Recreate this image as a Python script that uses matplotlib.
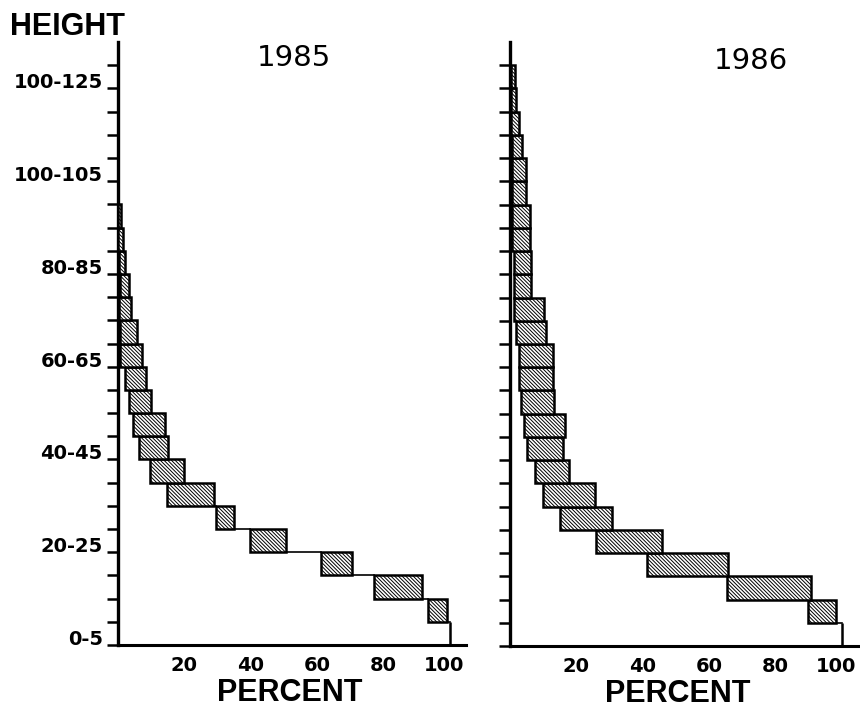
import matplotlib
matplotlib.use("Agg")
import matplotlib.pyplot as plt
from matplotlib.transforms import ScaledTranslation

plt.rcParams['font.family'] = ['DejaVu Sans']
plt.rcParams['hatch.linewidth'] = 0.7

# height classes (lower bound, 5 m steps)
class_step = 5
years = ['1985', '1986']

# left / right edge of each box in percent, class 0-5 upwards
lo_1985 = [100, 93.3, 77.2, 61.1, 39.8, 29.4, 14.8, 9.6, 6.4, 4.5, 3.4, 2.1, 0.7, 0.5, 0.3, 0.6, 0.2, 0.1, 0.0]
hi_1985 = [100, 99.0, 91.4, 70.4, 50.5, 35.0, 28.9, 19.9, 15.0, 14.1, 9.9, 8.5, 7.1, 5.7, 3.9, 3.2, 2.0, 1.5, 1.0]

lo_1986 = [100, 89.9, 65.5, 41.4, 25.8, 15.0, 10.0, 7.6, 5.0, 4.2, 3.2, 2.8, 2.8, 1.8, 1.3,
           1.2, 1.2, 0.6, 0.6, 0.5, 0.5, 0.5, 0.4, 0.3, 0.3]
hi_1986 = [100, 98.2, 90.7, 65.8, 45.9, 30.6, 25.5, 17.9, 15.9, 16.6, 13.3, 13.0, 13.1, 10.9, 10.2,
           6.3, 6.3, 6.0, 6.0, 4.9, 4.8, 3.6, 2.7, 1.8, 1.6]

ytick_pos = [0, 20, 40, 60, 80, 100, 120]
ytick_labels = ['0-5', '20-25', '40-45', '60-65', '80-85', '100-105', '100-125']
xtick_pos = [20, 40, 60, 80, 100]
xtick_labels = ['20', '40', '60', '80', '100']

W, H = 860, 709
fig = plt.figure(figsize=(W / 100, H / 100), dpi=100)
ax1 = fig.add_axes([118 / W, 1 - 645 / H, 348 / W, 603 / H])
ax2 = fig.add_axes([510 / W, 1 - 646 / H, 350 / W, 604 / H])


def draw_panel(ax, lo, hi, xmax, show_labels):
    bottoms = [i * class_step for i in range(len(lo))]
    widths = [h - l for l, h in zip(lo, hi)]
    ax.barh(bottoms, widths, height=class_step, left=lo, align='edge',
            facecolor='white', edgecolor='black', linewidth=1.8,
            hatch='\\' * 9, zorder=3)
    # thin step line joining the boxes
    for i in range(len(lo) - 1):
        if lo[i] > hi[i + 1]:
            ax.plot([hi[i + 1], lo[i]], [bottoms[i + 1], bottoms[i + 1]],
                    color='black', linewidth=1.2, zorder=2)

    ax.set_xlim(0, xmax)
    ax.set_ylim(0, 130)
    for s in ['top', 'right']:
        ax.spines[s].set_visible(False)
    ax.spines['left'].set_linewidth(2.4)
    ax.spines['bottom'].set_linewidth(2.2)

    ticks = list(range(0, 126, class_step))
    ax.set_yticks(ticks)
    if show_labels:
        labs = [ytick_labels[ytick_pos.index(v)] if v in ytick_pos else '' for v in ticks]
    else:
        labs = [''] * len(ticks)
    ax.set_yticklabels(labs, fontsize=14, fontweight='bold')
    for t in ax.get_yticklabels():
        t.set_verticalalignment('baseline')
    ax.tick_params(axis='y', direction='out', length=8, width=1.8, pad=3)

    ax.set_xticks(xtick_pos)
    ax.set_xticklabels(xtick_labels, fontsize=14, fontweight='bold')
    ax.tick_params(axis='x', length=0, pad=8)
    # the "100" label sits a little to the left in the original
    last = ax.get_xticklabels()[-1]
    last.set_transform(last.get_transform() + ScaledTranslation(-6 / 100, 0, fig.dpi_scale_trans))


draw_panel(ax1, lo_1985, hi_1985, 104.8, True)
draw_panel(ax2, lo_1986, hi_1986, 105.5, False)

fig.text(67 / W, 1 - 27 / H, 'HEIGHT', ha='center', va='center',
         fontsize=22, fontweight='bold', family='Liberation Sans')
fig.text(294 / W, 1 - 66 / H, years[0], ha='center', va='baseline', fontsize=21)
fig.text(751 / W, 1 - 69 / H, years[1], ha='center', va='baseline', fontsize=21)
fig.text(290 / W, 1 - 701 / H, 'PERCENT', ha='center', va='baseline',
         fontsize=22, fontweight='bold', family='Liberation Sans')
fig.text(678 / W, 1 - 702 / H, 'PERCENT', ha='center', va='baseline',
         fontsize=22, fontweight='bold', family='Liberation Sans')

fig.savefig('out.png', dpi=100)
